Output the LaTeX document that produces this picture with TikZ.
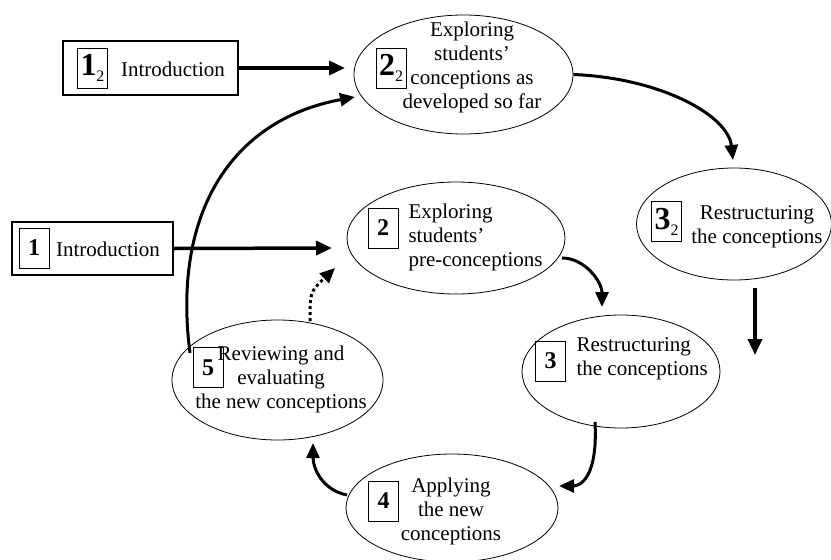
\documentclass[tikz,border=0pt]{standalone}
\usepackage{fontspec}
\setmainfont{Liberation Serif}
\usetikzlibrary{arrows.meta,shapes.geometric}

% big bold stage number, with an optional round index
\newcommand{\stagenum}[1]{{\fontsize{24}{24}\selectfont\bfseries #1}}
\newcommand{\stagenumtwo}[1]{{\fontsize{32}{32}\selectfont\bfseries #1}{\fontsize{16}{16}\selectfont\raisebox{-6pt}{2}}}

\begin{document}
\begin{tikzpicture}[
    x=1pt, y=-1pt,
    every node/.style={font=\fontsize{21}{24}\selectfont},
    phase/.style={
        draw,
        ellipse,
        line width=0.8pt,
        inner sep=0pt
    },
    numbox/.style={
        draw,
        line width=0.9pt,
        minimum width=30pt,
        minimum height=40pt,
        inner sep=0pt
    },
    introbox/.style={
        draw,
        line width=1.2pt,
        inner sep=0pt
    },
    flow/.style={line width=3.5pt, -{Triangle[length=16pt,width=14pt]}},
    turn/.style={line width=3pt, -{Triangle[length=15pt,width=13pt]}}
]
\useasboundingbox (0,0) rectangle (831,560);

% ---------- second cycle (upper) ----------
\node[introbox, minimum width=175pt, minimum height=54pt] (introB) at (150.5,68) {};
\node[numbox] (numIntroB) at (92.5,68) {\stagenumtwo{1}};
\node (txtIntroB) at (173,69) {Introduction};

\node[phase, minimum width=219pt, minimum height=119pt] (exploreB) at (463.5,74.5) {};
\node[numbox] (numExploreB) at (391,68) {\stagenumtwo{2}};
\node[align=center] (txtExploreB) at (472,67) {Exploring\\ students'\\ conceptions as\\ developed so far};

\node[phase, minimum width=195pt, minimum height=112pt] (restrB) at (734,224) {};
\node[numbox] (numRestrB) at (666.5,221.5) {\stagenumtwo{3}};
\node[align=center] (txtRestrB) at (757,227) {Restructuring\\ the conceptions};

% ---------- first cycle ----------
\node[introbox, minimum width=161pt, minimum height=53pt] (introA) at (92.5,248.5) {};
\node[numbox] (numIntroA) at (34,248) {\stagenum{1}};
\node (txtIntroA) at (108,249) {Introduction};

\node[phase, minimum width=218pt, minimum height=112pt] (exploreA) at (456,238) {};
\node[numbox] (numExploreA) at (383,228) {\stagenum{2}};
\node[align=left, anchor=west] (txtExploreA) at (405,237) {Exploring\\ students'\\ pre-conceptions};

\node[phase, minimum width=198pt, minimum height=113pt] (restrA) at (621,371.5) {};
\node[numbox] (numRestrA) at (550.5,361) {\stagenum{3}};
\node[align=left, anchor=west] (txtRestrA) at (573,359) {Restructuring\\ the conceptions};

\node[phase, minimum width=212pt, minimum height=108pt] (apply) at (452,508) {};
\node[numbox] (numApply) at (383.5,501) {\stagenum{4}};
\node[align=center] (txtApply) at (451,511) {Applying\\ the new\\ conceptions};

\node[phase, minimum width=211pt, minimum height=120pt] (review) at (277.5,380) {};
\node[numbox] (numReview) at (208,367.5) {\stagenum{5}};
\node[align=center] (txtReview) at (281,379) {Reviewing and\\ evaluating\\ the new conceptions};

% ---------- free arrow ends ----------
\coordinate (tipExploreB) at (345,68);
\coordinate (tipRestrB) at (733,160);
\coordinate (outRestrB) at (755,288);
\coordinate (tipDown) at (755,355);
\coordinate (tipExploreA) at (332,248);
\coordinate (outExploreA) at (562,258);
\coordinate (tipRestrA) at (602,307);
\coordinate (outRestrA) at (595,422);
\coordinate (tipApply) at (559,486);
\coordinate (outApply) at (347,495);
\coordinate (tipReview) at (313,443);
\coordinate (outReview) at (310,321);
\coordinate (tipBack) at (335,268);
\coordinate (outLoop) at (190,353);
\coordinate (tipLoop) at (355,97);

% ---------- arrows ----------
\draw[flow] (introB.east) -- (tipExploreB);
\draw[turn] (exploreB.east) .. controls (660,78) and (728,115) .. (tipRestrB);
\draw[flow] (outRestrB) -- (tipDown);

\draw[flow] (introA.east) -- (tipExploreA);
\draw[turn] (outExploreA) .. controls (585,258) and (602,282) .. (tipRestrA);
\draw[turn] (outRestrA) .. controls (598,478) and (580,486) .. (tipApply);
\draw[turn] (outApply) .. controls (322,490) and (313,468) .. (tipReview);
\draw[line width=3pt, dash pattern=on 3pt off 3pt, -{Triangle[length=15pt,width=13pt]}]
    (outReview) .. controls (310,292) .. (tipBack);

% back to the second cycle
\draw[turn] (outLoop) .. controls (172,215) and (230,120) .. (tipLoop);

\end{tikzpicture}
\end{document}
